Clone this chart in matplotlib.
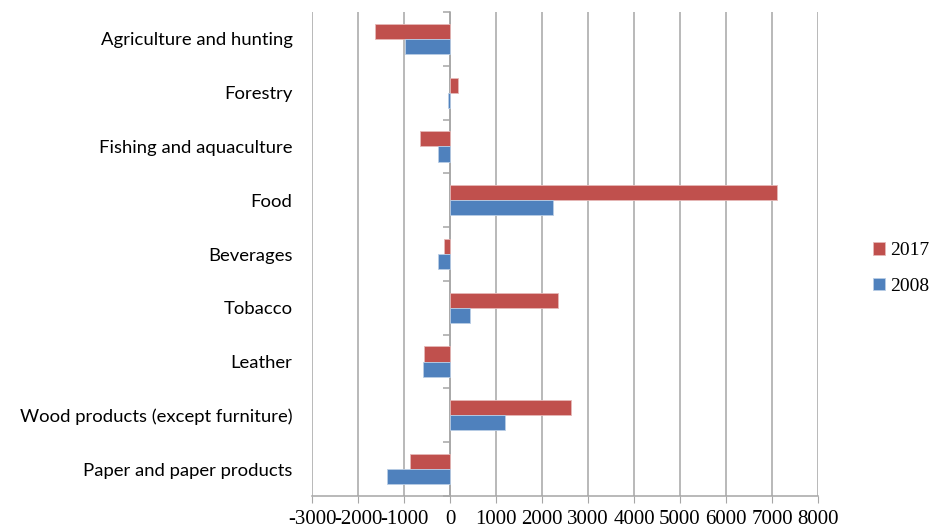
import matplotlib
matplotlib.use("Agg")
import matplotlib.pyplot as plt
import numpy as np

categories = [
    "Agriculture and hunting",
    "Forestry",
    "Fishing and aquaculture",
    "Food",
    "Beverages",
    "Tobacco",
    "Leather",
    "Wood products (except furniture)",
    "Paper and paper products",
]
values_2017 = [-1620, 170, -655, 7100, -135, 2340, -560, 2620, -870]
values_2008 = [-970, -40, -265, 2235, -265, 425, -585, 1190, -1380]
x_ticks = list(range(-3000, 8001, 1000))

red = "#C0504D"
blue = "#4F81BD"
grid_col = "#A6A6A6"

fig = plt.figure(figsize=(9.3, 5.29), dpi=100)
ax = fig.add_axes([312 / 930, 33 / 529, 506 / 930, 484 / 529])

y = np.arange(len(categories))
h = 0.28
ax.barh(y - h / 2, values_2017, height=h, color=red, edgecolor="#E6B8B7",
        linewidth=0.6, label="2017", zorder=3)
ax.barh(y + h / 2, values_2008, height=h, color=blue, edgecolor="#B9CDE5",
        linewidth=0.6, label="2008", zorder=3)

ax.set_xlim(-3000, 8000)
ax.set_ylim(len(categories) - 0.5, -0.5)
ax.set_xticks(x_ticks)
ax.set_xticklabels([str(t) for t in x_ticks], family="Liberation Serif", fontsize=15)
ax.set_yticks(y)
ax.set_yticklabels(categories, family="Lato", fontsize=13.3)
ax.tick_params(axis="y", length=0, pad=14)
ax.tick_params(axis="x", direction="out", length=5, color=grid_col, pad=5)
ax.grid(axis="x", color=grid_col, linewidth=1.1, zorder=0)
for s in ["top", "right", "left"]:
    ax.spines[s].set_visible(False)
ax.spines["bottom"].set_color(grid_col)
ax.spines["bottom"].set_linewidth(1.1)

# category axis crossing at zero with boundary ticks
sec = ax.secondary_yaxis(3 / 11)
sec.set_yticks(np.arange(-0.5, len(categories), 1.0))
sec.set_yticklabels([])
sec.tick_params(direction="out", length=5, color=grid_col, width=1.1)
sec.spines["left"].set_color(grid_col)
sec.spines["left"].set_linewidth(1.1)

fig.legend(loc="center left", bbox_to_anchor=(0.92, 0.492), frameon=False,
           prop={"family": "Liberation Serif", "size": 14},
           handlelength=0.6, handleheight=0.6, handletextpad=0.3, labelspacing=0.95)

fig.savefig("out.png", dpi=100)
